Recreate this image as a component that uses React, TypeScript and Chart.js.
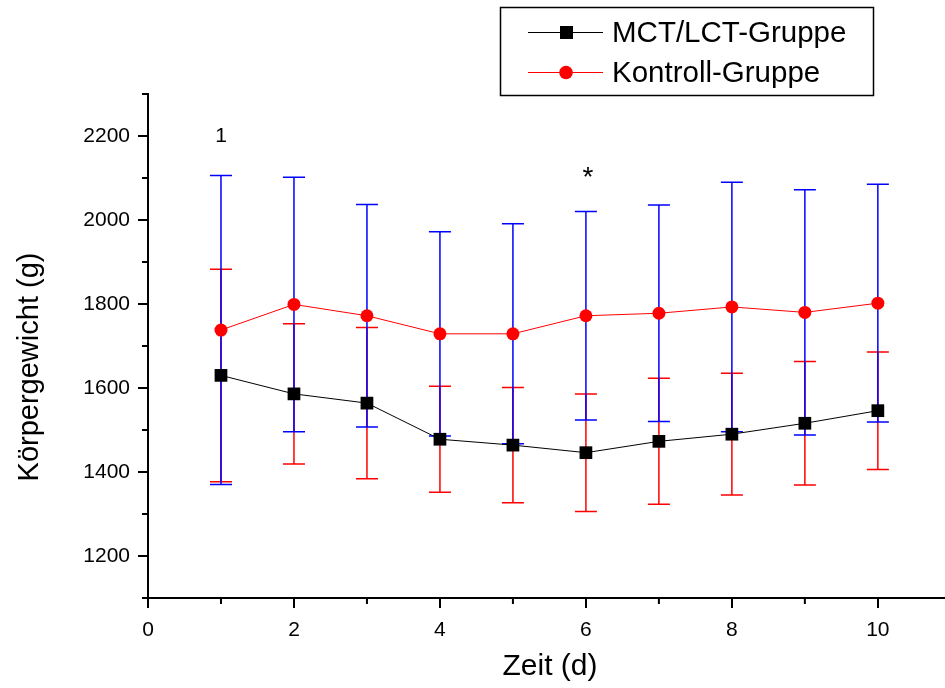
import React, { useEffect, useRef } from 'react';
import { Chart, registerables } from 'chart.js';

Chart.register(...registerables);

const days = [1, 2, 3, 4, 5, 6, 7, 8, 9, 10];
const mctMean = [1630, 1586, 1564, 1478, 1464, 1446, 1473, 1490, 1516, 1546];
const mctSD = [253, 167, 180, 126, 137, 140, 150, 145, 147, 140];
const ctrlMean = [1738, 1799, 1772, 1729, 1729, 1772, 1778, 1793, 1780, 1802];
const ctrlSD = [368, 303, 265, 243, 262, 248, 258, 297, 292, 283];

const xMajorTicks = [0, 2, 4, 6, 8, 10];
const xMinorTicks = [1, 3, 5, 7, 9];
const yMajorTicks = [1200, 1400, 1600, 1800, 2000, 2200];
const yMinorTicks = [1100, 1300, 1500, 1700, 1900, 2100, 2300];

const seriesNames = ['MCT/LCT-Gruppe', 'Kontroll-Gruppe'];
const xTitle = 'Zeit (d)';
const yTitle = 'Körpergewicht (g)';
const marks = [
  { x: 1, y: 2186, text: '1', size: 21 },
  { x: 6, y: 2082, text: '*', size: 28 },
];

const FONT = "'Liberation Sans', Arial, sans-serif";

const errorBarPlugin = {
  id: 'errorBars',
  beforeDatasetsDraw(chart: any) {
    const { ctx, scales } = chart;
    const xs = scales.x;
    const ys = scales.y;
    const drawBars = (means: number[], sds: number[], color: string) => {
      ctx.save();
      ctx.strokeStyle = color;
      ctx.lineWidth = 1.5;
      days.forEach((d, i) => {
        const px = xs.getPixelForValue(d);
        const top = ys.getPixelForValue(means[i] + sds[i]);
        const bot = ys.getPixelForValue(means[i] - sds[i]);
        ctx.beginPath();
        ctx.moveTo(px, top);
        ctx.lineTo(px, bot);
        ctx.moveTo(px - 11, top);
        ctx.lineTo(px + 11, top);
        ctx.moveTo(px - 11, bot);
        ctx.lineTo(px + 11, bot);
        ctx.stroke();
      });
      ctx.restore();
    };
    drawBars(mctMean, mctSD, '#ff0000');
    drawBars(ctrlMean, ctrlSD, '#0000ff');
  },
  afterDraw(chart: any) {
    const { ctx, scales } = chart;
    const xs = scales.x;
    const ys = scales.y;
    ctx.save();
    // minor ticks
    ctx.strokeStyle = '#000';
    ctx.lineWidth = 2;
    ctx.beginPath();
    xMinorTicks.forEach((v) => {
      const px = xs.getPixelForValue(v);
      ctx.moveTo(px, ys.bottom);
      ctx.lineTo(px, ys.bottom + 6);
    });
    yMinorTicks.forEach((v) => {
      const py = ys.getPixelForValue(v);
      ctx.moveTo(xs.left, py);
      ctx.lineTo(xs.left - 6, py);
    });
    ctx.stroke();

    // axis titles
    ctx.fillStyle = '#000';
    ctx.textAlign = 'center';
    ctx.textBaseline = 'middle';
    ctx.font = `30px ${FONT}`;
    ctx.fillText(xTitle, 550, 667);
    ctx.save();
    ctx.translate(30, 367);
    ctx.rotate(-Math.PI / 2);
    ctx.font = `29px ${FONT}`;
    ctx.fillText(yTitle, 0, 0);
    ctx.restore();

    // annotations
    ctx.textAlign = 'center';
    ctx.textBaseline = 'alphabetic';
    marks.forEach((m) => {
      ctx.font = `${m.size}px ${FONT}`;
      ctx.fillText(m.text, xs.getPixelForValue(m.x) + (m.text === '*' ? 2 : 0), ys.getPixelForValue(m.y));
    });

    // legend
    ctx.lineWidth = 1.5;
    ctx.strokeStyle = '#000';
    ctx.strokeRect(500.5, 7.5, 373, 88);
    const rows = [
      { y: 32.5, color: '#000000', name: seriesNames[0], shape: 'rect' },
      { y: 72.5, color: '#ff0000', name: seriesNames[1], shape: 'circle' },
    ];
    rows.forEach((r) => {
      ctx.strokeStyle = r.color;
      ctx.lineWidth = 1;
      ctx.beginPath();
      ctx.moveTo(528, r.y);
      ctx.lineTo(603, r.y);
      ctx.stroke();
      ctx.fillStyle = r.color;
      if (r.shape === 'rect') {
        ctx.fillRect(560, r.y - 6.5, 13, 13);
      } else {
        ctx.beginPath();
        ctx.arc(566, r.y, 6.8, 0, Math.PI * 2);
        ctx.fill();
      }
      ctx.fillStyle = '#000';
      ctx.font = `29.5px ${FONT}`;
      ctx.textAlign = 'left';
      ctx.textBaseline = 'middle';
      ctx.fillText(r.name, 612, r.y + 1);
    });
    ctx.restore();
  },
};

export default function App() {
  const ref = useRef<HTMLCanvasElement | null>(null);
  useEffect(() => {
    if (!ref.current) return;
    const chart = new Chart(ref.current, {
      type: 'line',
      data: {
        datasets: [
          {
            label: seriesNames[0],
            data: days.map((d, i) => ({ x: d, y: mctMean[i] })),
            borderColor: '#000000',
            backgroundColor: '#000000',
            borderWidth: 1,
            pointStyle: 'rect',
            pointRadius: 9,
            pointBorderWidth: 0,
            pointBackgroundColor: '#000000',
          },
          {
            label: seriesNames[1],
            data: days.map((d, i) => ({ x: d, y: ctrlMean[i] })),
            borderColor: '#ff0000',
            backgroundColor: '#ff0000',
            borderWidth: 1,
            pointStyle: 'circle',
            pointRadius: 6.5,
            pointBorderWidth: 0,
            pointBackgroundColor: '#ff0000',
          },
        ],
      },
      options: {
        animation: false,
        responsive: false,
        maintainAspectRatio: false,
        layout: { autoPadding: false, padding: { top: 94, left: 0, right: 0, bottom: 0 } },
        plugins: {
          legend: { display: false },
          tooltip: { enabled: false },
        },
        scales: {
          x: {
            type: 'linear',
            min: 0,
            max: 10.92,
            afterBuildTicks: (s: any) => {
              s.ticks = xMajorTicks.map((v) => ({ value: v }));
            },
            afterFit: (s: any) => {
              s.height = 90;
              s.paddingLeft = 0;
              s.paddingRight = 0;
            },
            grid: {
              drawOnChartArea: false,
              drawTicks: true,
              tickLength: 10,
              color: '#000',
              lineWidth: 2,
            },
            border: { display: true, color: '#000', width: 2 },
            ticks: {
              color: '#000',
              font: { family: FONT, size: 21 },
              padding: 10,
              maxRotation: 0,
              autoSkip: false,
              callback: (v: any) => String(v),
            },
            title: { display: false },
          },
          y: {
            type: 'linear',
            min: 1100,
            max: 2300,
            afterBuildTicks: (s: any) => {
              s.ticks = yMajorTicks.map((v) => ({ value: v }));
            },
            afterFit: (s: any) => {
              s.width = 148;
              s.paddingTop = 0;
              s.paddingBottom = 0;
            },
            grid: {
              drawOnChartArea: false,
              drawTicks: true,
              tickLength: 10,
              color: '#000',
              lineWidth: 2,
            },
            border: { display: true, color: '#000', width: 2 },
            ticks: {
              color: '#000',
              font: { family: FONT, size: 21 },
              padding: 8,
              autoSkip: false,
              callback: (v: any) => String(v),
            },
            title: { display: false },
          },
        },
      },
      plugins: [errorBarPlugin],
    } as any);
    return () => chart.destroy();
  }, []);
  return (
    <div style={{ position: 'fixed', left: 0, top: 0, width: 945, height: 688, background: '#fff' }}>
      <canvas ref={ref} width={945} height={688} style={{ display: 'block' }} />
    </div>
  );
}
